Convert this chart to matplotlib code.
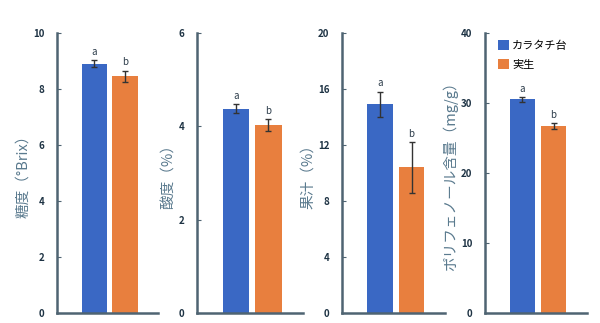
import numpy as np
import matplotlib
matplotlib.use("Agg")
import matplotlib.pyplot as plt

plt.rcParams['font.family'] = ['Noto Sans CJK JP', 'DejaVu Sans']

groups = ['カラタチ台', '実生']
colors = ['#3a68c4', '#e87f3e']

# 各項目の平均値と誤差
labels = ['糖度（°Brix）', '酸度（%）', '果汁（%）', 'ポリフェノール含量（mg/g）']
means = [[8.9, 8.45], [4.38, 4.02], [14.9, 10.4], [30.5, 26.7]]
errs = [[0.12, 0.2], [0.1, 0.13], [0.9, 1.8], [0.3, 0.4]]
letters = [['a', 'b'], ['a', 'b'], ['a', 'b'], ['a', 'b']]
ymax = [10, 6, 20, 40]
yticks = [[0, 2, 4, 6, 8, 10], [0, 2, 4, 6], [0, 4, 8, 12, 16, 20], [0, 10, 20, 30, 40]]

boxes = [[0.095, 0.031, 0.168, 0.867],
         [0.328, 0.031, 0.177, 0.867],
         [0.570, 0.031, 0.172, 0.867],
         [0.808, 0.031, 0.170, 0.867]]

axcol = '#4f6472'
fig = plt.figure(figsize=(6, 3.23), dpi=100)
x = np.arange(2)
for i in range(4):
    ax = fig.add_axes(boxes[i])
    ax.bar(x, means[i], width=0.82, color=colors, label=groups)
    ax.errorbar(x, means[i], yerr=errs[i], fmt='none', ecolor='#333333',
                elinewidth=1, capsize=2.5)
    for j in range(2):
        ax.text(x[j], means[i][j] + errs[i][j] + ymax[i] * 0.012, letters[i][j],
                ha='center', va='bottom', fontsize=7, color='#2a3a48')
    ax.set_xlim(-1.21, 2.07)
    ax.set_ylim(0, ymax[i])
    ax.set_yticks(yticks[i])
    ax.set_xticks([])
    ax.tick_params(axis='y', direction='in', length=3, color=axcol,
                   labelsize=7, labelcolor='#1e3344', pad=9)
    for t in ax.get_yticklabels():
        t.set_fontweight('bold')
    ax.spines['top'].set_visible(False)
    ax.spines['right'].set_visible(False)
    ax.spines['left'].set_color(axcol)
    ax.spines['bottom'].set_color(axcol)
    ax.spines['left'].set_linewidth(1.8)
    ax.spines['bottom'].set_linewidth(1.8)
    ax.set_ylabel(labels[i], fontsize=10.5, color='#5a7a8e', labelpad=2)
    if i == 3:
        ax.legend(loc='upper left', bbox_to_anchor=(0.06, 1.0), fontsize=8,
                  frameon=False, handlelength=1.0, handleheight=1.1,
                  handletextpad=0.3, borderaxespad=0.2, labelspacing=0.7)

plt.savefig('out.png', dpi=100)
